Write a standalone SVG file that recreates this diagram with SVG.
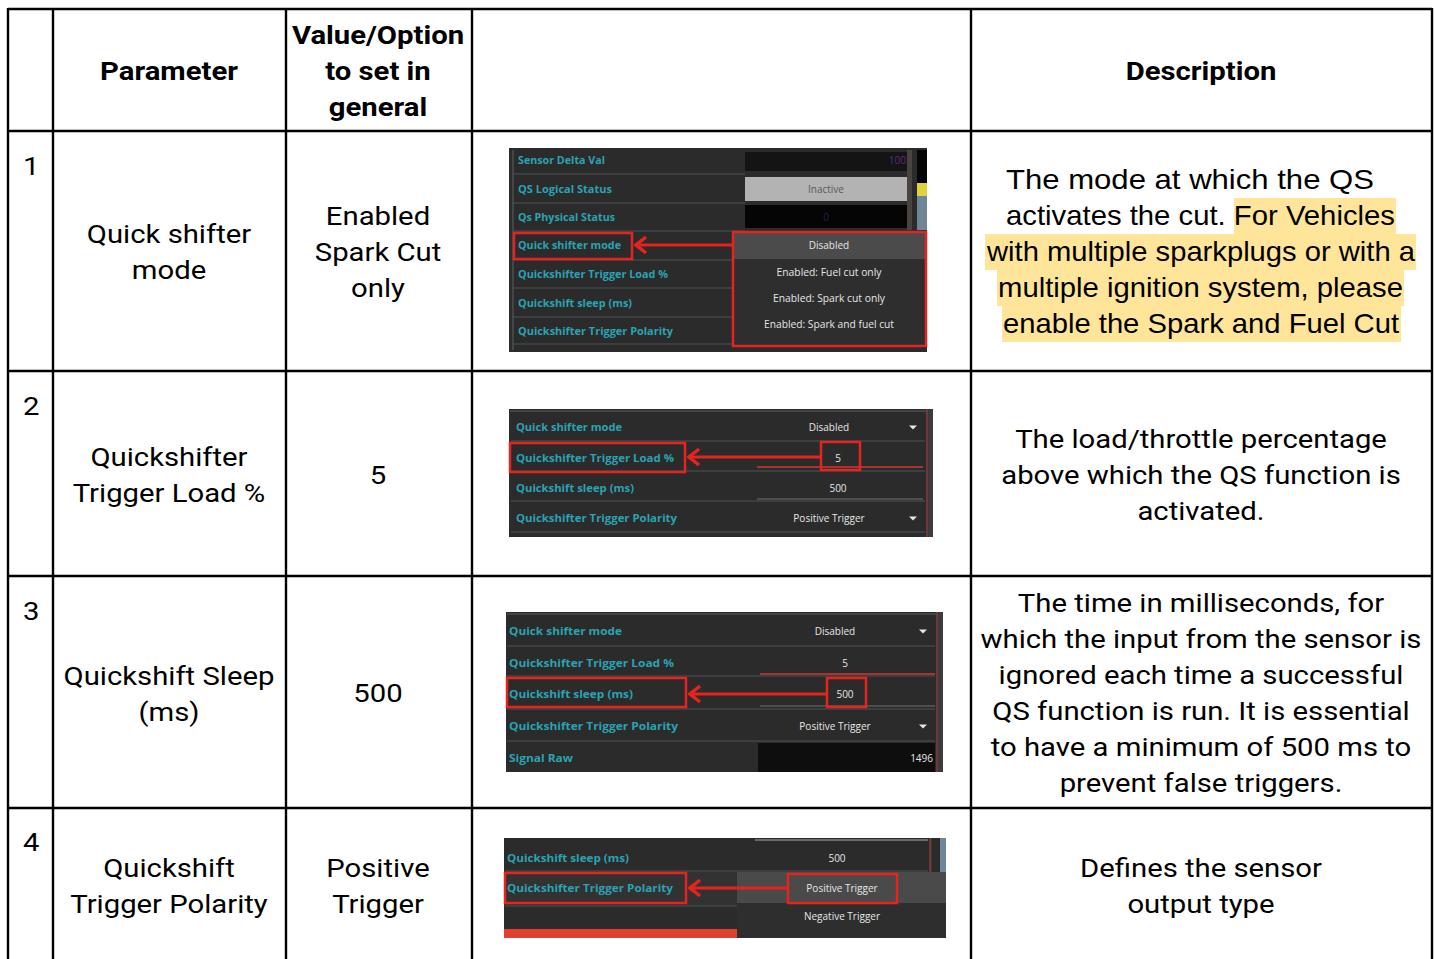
<svg xmlns="http://www.w3.org/2000/svg" width="1434" height="959" viewBox="0 0 1434 959">
  <style>
    .grid { stroke: #000; stroke-width: 2.4; fill: none; }
    .hd { font-family: Roboto, "Liberation Sans", sans-serif; font-weight: bold; font-size: 26.5px; fill: #000; text-anchor: middle; }
    .cell { font-family: Roboto, "Liberation Sans", sans-serif; font-size: 26.5px; fill: #000; text-anchor: middle; }
    .num { font-family: Roboto, "Liberation Sans", sans-serif; font-size: 26.5px; fill: #000; }
    .desc1 { font-family: "Liberation Sans", Arial, sans-serif; font-size: 28px; fill: #000; }
    .hl { fill: #ffe599; }
    .ui { fill: #2b2b2b; }
    .sep { stroke: #4e5356; stroke-width: 1.2; }
    .lbl { font-family: "Open Sans", "DejaVu Sans", sans-serif; font-weight: bold; font-size: 10.5px; fill: #2aa3b3; }
    .val { font-family: "Open Sans", "DejaVu Sans", sans-serif; font-size: 10px; fill: #e6e6e6; text-anchor: middle; }
    .box { fill: none; stroke: #e5231f; stroke-width: 2.5; }
    .arrow { fill: none; stroke: #e5231f; stroke-width: 3.2; }
    .tri { fill: #e6e6e6; }
  </style>
  <defs>
    <marker id="head" viewBox="-13 -10 15 20" markerWidth="15" markerHeight="20" refX="0" refY="0" orient="auto" markerUnits="userSpaceOnUse">
      <path d="M-10,-8 L0,0 L-10,8" fill="none" stroke="#e5231f" stroke-width="3.5"/>
    </marker>
  </defs>

  <rect width="1434" height="959" fill="#fff"/>

  <!-- table grid -->
  <g id="grid">
    <line class="grid" x1="8" y1="9" x2="1432" y2="9"/>
    <line class="grid" x1="8" y1="131" x2="1432" y2="131"/>
    <line class="grid" x1="8" y1="371" x2="1432" y2="371"/>
    <line class="grid" x1="8" y1="576" x2="1432" y2="576"/>
    <line class="grid" x1="8" y1="808" x2="1432" y2="808"/>
    <line class="grid" x1="8" y1="8" x2="8" y2="959"/>
    <line class="grid" x1="53" y1="8" x2="53" y2="959"/>
    <line class="grid" x1="286" y1="8" x2="286" y2="959"/>
    <line class="grid" x1="472" y1="8" x2="472" y2="959"/>
    <line class="grid" x1="971" y1="8" x2="971" y2="959"/>
    <line class="grid" x1="1432" y1="8" x2="1432" y2="959"/>
  </g>

  <!-- header row -->
  <g id="header">
    <g transform="translate(169 0) scale(1.105 1)">
      <text class="hd" x="0" y="80.5">Parameter</text>
    </g>
    <g transform="translate(378 0) scale(1.105 1)">
      <text class="hd" x="0" y="44.5">Value/Option</text>
      <text class="hd" x="0" y="80.5">to set in</text>
      <text class="hd" x="0" y="116.5">general</text>
    </g>
    <g transform="translate(1201 0) scale(1.105 1)">
      <text class="hd" x="0" y="80.5">Description</text>
    </g>
  </g>

  <!-- row 1: Quick shifter mode -->
  <g id="row1">
    <g transform="translate(23 0) scale(1.105 1)">
      <text class="num" x="0" y="175">1</text>
    </g>
    <g transform="translate(169 0) scale(1.105 1)">
      <text class="cell" x="0" y="243.5">Quick shifter</text>
      <text class="cell" x="0" y="279.5">mode</text>
    </g>
    <g transform="translate(378 0) scale(1.105 1)">
      <text class="cell" x="0" y="225.5">Enabled</text>
      <text class="cell" x="0" y="261.5">Spark Cut</text>
      <text class="cell" x="0" y="297.5">only</text>
    </g>
    <rect class="hl" x="1234" y="198" width="162" height="36"/>
    <rect class="hl" x="985" y="234" width="431" height="36"/>
    <rect class="hl" x="997" y="270" width="407" height="36"/>
    <rect class="hl" x="1002" y="306" width="399" height="36"/>
    <text class="desc1" x="1006" y="189" textLength="368" lengthAdjust="spacingAndGlyphs">The mode at which the QS</text>
    <text class="desc1" x="1006" y="225" textLength="389" lengthAdjust="spacingAndGlyphs">activates the cut. For Vehicles</text>
    <text class="desc1" x="987" y="261" textLength="428" lengthAdjust="spacingAndGlyphs">with multiple sparkplugs or with a</text>
    <text class="desc1" x="998" y="297" textLength="405" lengthAdjust="spacingAndGlyphs">multiple ignition system, please</text>
    <text class="desc1" x="1003" y="333" textLength="396" lengthAdjust="spacingAndGlyphs">enable the Spark and Fuel Cut</text>
  </g>

  <!-- screen capture 1: mode drop-down -->
  <g id="shot1">
    <rect class="ui" x="509" y="148" width="418" height="204"/>
    <line x1="513" y1="150" x2="513" y2="350" stroke="#55595c" stroke-width="1.2"/>
    <line class="sep" x1="513" y1="174" x2="745" y2="174"/>
    <line class="sep" x1="513" y1="203" x2="745" y2="203"/>
    <line class="sep" x1="513" y1="231" x2="745" y2="231"/>
    <line class="sep" x1="513" y1="260" x2="733" y2="260"/>
    <line class="sep" x1="513" y1="288" x2="733" y2="288"/>
    <line class="sep" x1="513" y1="317" x2="733" y2="317"/>
    <line class="sep" x1="513" y1="344" x2="733" y2="344"/>
    <rect x="745" y="152" width="162" height="19" fill="#141414"/>
    <rect x="745" y="177" width="162" height="24" fill="#b3b3b3"/>
    <rect x="745" y="205" width="162" height="23" fill="#050505"/>
    <rect x="907" y="150" width="5" height="80" fill="#4a4440"/>
    <rect x="917" y="150" width="10" height="33" fill="#050505"/>
    <rect x="917" y="183" width="10" height="13" fill="#e1d23c"/>
    <rect x="917" y="196" width="10" height="34" fill="#6f8598"/>
    <text class="lbl" x="518" y="163.5" textLength="87" lengthAdjust="spacingAndGlyphs">Sensor Delta Val</text>
    <text class="lbl" x="518" y="192.5" textLength="94" lengthAdjust="spacingAndGlyphs">QS Logical Status</text>
    <text class="lbl" x="518" y="220.5" textLength="97" lengthAdjust="spacingAndGlyphs">Qs Physical Status</text>
    <text class="lbl" x="518" y="248.5" textLength="103" lengthAdjust="spacingAndGlyphs">Quick shifter mode</text>
    <text class="lbl" x="518" y="277.5" textLength="150" lengthAdjust="spacingAndGlyphs">Quickshifter Trigger Load %</text>
    <text class="lbl" x="518" y="306.5" textLength="114" lengthAdjust="spacingAndGlyphs">Quickshift sleep (ms)</text>
    <text class="lbl" x="518" y="334.5" textLength="155" lengthAdjust="spacingAndGlyphs">Quickshifter Trigger Polarity</text>
    <text class="val" x="906" y="163.5" style="text-anchor:end;fill:#5e2a86">100</text>
    <text class="val" x="826" y="192.5" style="fill:#5a5a5a">Inactive</text>
    <text class="val" x="826" y="220.5" style="fill:#2e1a52">0</text>
    <!-- drop-down list -->
    <rect x="733" y="232" width="193" height="114" fill="#2e2e2e"/>
    <rect x="733" y="232" width="193" height="27" fill="#4b4b4b"/>
    <text class="val" x="829" y="248.5">Disabled</text>
    <text class="val" x="829" y="275.5" textLength="105" lengthAdjust="spacingAndGlyphs">Enabled: Fuel cut only</text>
    <text class="val" x="829" y="301.5" textLength="112" lengthAdjust="spacingAndGlyphs">Enabled: Spark cut only</text>
    <text class="val" x="829" y="327.5" textLength="130" lengthAdjust="spacingAndGlyphs">Enabled: Spark and fuel cut</text>
    <rect class="box" x="733" y="232" width="193" height="114"/>
    <rect class="box" x="514" y="233" width="118" height="26"/>
    <line class="arrow" x1="733" y1="245" x2="636" y2="245" marker-end="url(#head)"/>
  </g>

  <!-- row 2: trigger load -->
  <g id="row2">
    <g transform="translate(23 0) scale(1.105 1)">
      <text class="num" x="0" y="415">2</text>
    </g>
    <g transform="translate(169 0) scale(1.105 1)">
      <text class="cell" x="0" y="466.5">Quickshifter</text>
      <text class="cell" x="0" y="502.5">Trigger Load %</text>
    </g>
    <g transform="translate(378 0) scale(1.105 1)">
      <text class="cell" x="0" y="484.5">5</text>
    </g>
    <g transform="translate(1201 0) scale(1.105 1)">
      <text class="cell" x="0" y="448.5">The load/throttle percentage</text>
      <text class="cell" x="0" y="484.5">above which the QS function is</text>
      <text class="cell" x="0" y="520.5">activated.</text>
    </g>
  </g>

  <!-- screen capture 2 -->
  <g id="shot2">
    <rect class="ui" x="509" y="409" width="424" height="128"/>
    <line x1="510" y1="411" x2="927" y2="411" stroke="#5a5e61" stroke-width="1.2"/>
    <rect x="926" y="409" width="2.5" height="128" fill="#6b3a3a"/>
    <rect x="929" y="409" width="4" height="128" fill="#3c3c3c"/>
    <line class="sep" x1="511" y1="441" x2="925" y2="441"/>
    <line class="sep" x1="511" y1="471" x2="925" y2="471"/>
    <line class="sep" x1="511" y1="501" x2="925" y2="501"/>
    <line class="sep" x1="511" y1="532" x2="925" y2="532"/>
    <line x1="757" y1="467" x2="923" y2="467" stroke="#d23a32" stroke-width="1.5"/>
    <line x1="757" y1="499" x2="923" y2="499" stroke="#707070" stroke-width="1.2"/>
    <text class="lbl" x="516" y="430.5" textLength="106" lengthAdjust="spacingAndGlyphs">Quick shifter mode</text>
    <text class="lbl" x="516" y="461.5" textLength="158" lengthAdjust="spacingAndGlyphs">Quickshifter Trigger Load %</text>
    <text class="lbl" x="516" y="491.5" textLength="118" lengthAdjust="spacingAndGlyphs">Quickshift sleep (ms)</text>
    <text class="lbl" x="516" y="521.5" textLength="161" lengthAdjust="spacingAndGlyphs">Quickshifter Trigger Polarity</text>
    <text class="val" x="829" y="430.5">Disabled</text>
    <text class="val" x="838" y="461.5">5</text>
    <text class="val" x="838" y="491.5">500</text>
    <text class="val" x="829" y="521.5">Positive Trigger</text>
    <path class="tri" d="M909,425.5 L917,425.5 L913,429.5 Z"/>
    <path class="tri" d="M909,516.5 L917,516.5 L913,520.5 Z"/>
    <rect class="box" x="510" y="443" width="175" height="29"/>
    <rect class="box" x="821" y="442" width="39" height="28"/>
    <line class="arrow" x1="821" y1="457" x2="689" y2="457" marker-end="url(#head)"/>
  </g>

  <!-- row 3: sleep -->
  <g id="row3">
    <g transform="translate(23 0) scale(1.105 1)">
      <text class="num" x="0" y="620">3</text>
    </g>
    <g transform="translate(169 0) scale(1.105 1)">
      <text class="cell" x="0" y="685">Quickshift Sleep</text>
      <text class="cell" x="0" y="721">(ms)</text>
    </g>
    <g transform="translate(378 0) scale(1.105 1)">
      <text class="cell" x="0" y="702.5">500</text>
    </g>
    <g transform="translate(1201 0) scale(1.105 1)">
      <text class="cell" x="0" y="612.5">The time in milliseconds, for</text>
      <text class="cell" x="0" y="648.5">which the input from the sensor is</text>
      <text class="cell" x="0" y="684.5">ignored each time a successful</text>
      <text class="cell" x="0" y="720.5">QS function is run. It is essential</text>
      <text class="cell" x="0" y="756.5">to have a minimum of 500 ms to</text>
      <text class="cell" x="0" y="792.5">prevent false triggers.</text>
    </g>
  </g>

  <!-- screen capture 3 -->
  <g id="shot3">
    <rect class="ui" x="506" y="612" width="437" height="160"/>
    <line x1="507" y1="614" x2="936" y2="614" stroke="#5a5e61" stroke-width="1.2"/>
    <rect x="936" y="612" width="2.5" height="160" fill="#6b3a3a"/>
    <rect x="939" y="612" width="4" height="160" fill="#3c3c3c"/>
    <line class="sep" x1="507" y1="646" x2="935" y2="646"/>
    <line class="sep" x1="507" y1="676" x2="935" y2="676"/>
    <line class="sep" x1="507" y1="709" x2="935" y2="709"/>
    <line class="sep" x1="507" y1="741" x2="935" y2="741"/>
    <line x1="760" y1="674" x2="935" y2="674" stroke="#d23a32" stroke-width="1.5"/>
    <line x1="760" y1="706" x2="935" y2="706" stroke="#707070" stroke-width="1.2"/>
    <rect x="758" y="743" width="177" height="29" fill="#0e0e0e"/>
    <text class="lbl" x="509" y="634.5" textLength="113" lengthAdjust="spacingAndGlyphs">Quick shifter mode</text>
    <text class="lbl" x="509" y="666.5" textLength="165" lengthAdjust="spacingAndGlyphs">Quickshifter Trigger Load %</text>
    <text class="lbl" x="509" y="697.5" textLength="124" lengthAdjust="spacingAndGlyphs">Quickshift sleep (ms)</text>
    <text class="lbl" x="509" y="729.5" textLength="169" lengthAdjust="spacingAndGlyphs">Quickshifter Trigger Polarity</text>
    <text class="lbl" x="509" y="761.5" textLength="64" lengthAdjust="spacingAndGlyphs">Signal Raw</text>
    <text class="val" x="835" y="634.5">Disabled</text>
    <text class="val" x="845" y="666.5">5</text>
    <text class="val" x="845" y="697.5">500</text>
    <text class="val" x="835" y="729.5">Positive Trigger</text>
    <text class="val" x="933" y="761.5" style="text-anchor:end">1496</text>
    <path class="tri" d="M919,629.5 L927,629.5 L923,633.5 Z"/>
    <path class="tri" d="M919,724.5 L927,724.5 L923,728.5 Z"/>
    <rect class="box" x="507" y="678" width="179" height="29"/>
    <rect class="box" x="827" y="678" width="39" height="29"/>
    <line class="arrow" x1="827" y1="694" x2="690" y2="694" marker-end="url(#head)"/>
  </g>

  <!-- row 4: trigger polarity -->
  <g id="row4">
    <g transform="translate(23 0) scale(1.105 1)">
      <text class="num" x="0" y="851">4</text>
    </g>
    <g transform="translate(169 0) scale(1.105 1)">
      <text class="cell" x="0" y="877.5">Quickshift</text>
      <text class="cell" x="0" y="913.5">Trigger Polarity</text>
    </g>
    <g transform="translate(378 0) scale(1.105 1)">
      <text class="cell" x="0" y="877.5">Positive</text>
      <text class="cell" x="0" y="913.5">Trigger</text>
    </g>
    <g transform="translate(1201 0) scale(1.105 1)">
      <text class="cell" x="0" y="877.5">Defines the sensor</text>
      <text class="cell" x="0" y="913.5">output type</text>
    </g>
  </g>

  <!-- screen capture 4: polarity drop-down -->
  <g id="shot4">
    <rect class="ui" x="504" y="838" width="442" height="100"/>
    <line x1="755" y1="840" x2="928" y2="840" stroke="#6a6a6a" stroke-width="2"/>
    <rect x="929" y="838" width="2.5" height="34" fill="#6b3a3a"/>
    <rect x="940" y="838" width="6" height="34" fill="#6f8598"/>
    <line class="sep" x1="505" y1="871" x2="928" y2="871"/>
    <rect x="505" y="872" width="232" height="33" fill="#323232"/>
    <line class="sep" x1="505" y1="906" x2="737" y2="906"/>
    <rect x="504" y="929" width="233" height="9" fill="#e0402d"/>
    <rect x="737" y="872" width="209" height="66" fill="#2e2e2e"/>
    <rect x="737" y="872" width="209" height="31" fill="#4a4a4a"/>
    <text class="lbl" x="507" y="861.5" textLength="122" lengthAdjust="spacingAndGlyphs">Quickshift sleep (ms)</text>
    <text class="lbl" x="507" y="891.5" textLength="166" lengthAdjust="spacingAndGlyphs">Quickshifter Trigger Polarity</text>
    <text class="val" x="837" y="861.5">500</text>
    <text class="val" x="842" y="891.5">Positive Trigger</text>
    <text class="val" x="842" y="919.5">Negative Trigger</text>
    <rect class="box" x="505" y="873" width="181" height="30"/>
    <rect class="box" x="788" y="874" width="109" height="29"/>
    <line class="arrow" x1="788" y1="888" x2="690" y2="888" marker-end="url(#head)"/>
  </g>
</svg>
